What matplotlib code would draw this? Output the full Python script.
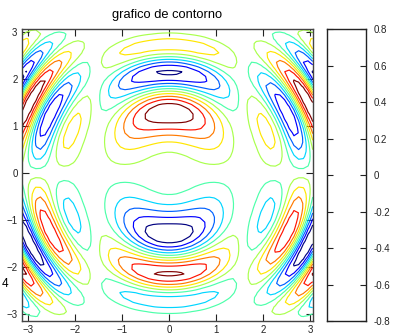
"""Contour plot of cos(x)*sin(y)*sin(x^2+y^2), in the style of an Octave/gnuplot figure."""

import numpy as np
import matplotlib
matplotlib.use("Agg")
import matplotlib.pyplot as plt

# grid as in meshgrid(-pi:0.1:pi), so the last value is 3.058
x_vals = np.arange(-np.pi, np.pi, 0.1)
y_vals = np.arange(-np.pi, np.pi, 0.1)
n_levels = 10

title_text = "grafico de contorno"
axis_ticks = [-3, -2, -1, 0, 1, 2, 3]
cbar_ticks = [-0.8, -0.6, -0.4, -0.2, 0, 0.2, 0.4, 0.6, 0.8]
cbar_labels = ["-0.8", "-0.6", "-0.4", "-0.2", "0", "0.2", "0.4", "0.6", "0.8"]


def main():
    plt.rcParams['font.family'] = ['Liberation Sans', 'DejaVu Sans']
    plt.rcParams['font.size'] = 7

    X, Y = np.meshgrid(x_vals, y_vals)
    Z = np.cos(X) * np.sin(Y) * np.sin(X ** 2 + Y ** 2)
    # octave style: n levels between min and max, ends excluded
    levels = np.linspace(Z.min(), Z.max(), n_levels + 2)[1:-1]

    fig = plt.figure(figsize=(3.93, 3.36), dpi=100)
    ax = fig.add_axes([0.0552, 0.0446, 0.7405, 0.868])
    ax.contour(X, Y, Z, levels=levels, cmap='jet', vmin=levels[0], vmax=levels[-1], linewidths=0.85)
    ax.set_xlim(x_vals[0], x_vals[-1])
    ax.set_ylim(y_vals[0], y_vals[-1])
    ax.set_xticks(axis_ticks)
    ax.set_yticks(axis_ticks)
    ax.tick_params(direction='in', length=5, width=0.8, top=True, right=True, pad=3, colors='#222222')
    for s in ax.spines.values():
        s.set_linewidth(1.0)
        s.set_color('#444444')
    ax.set_title(title_text, fontsize=9.3, pad=8)

    # colorbar box, drawn empty like the reference
    cax = fig.add_axes([0.832, 0.0446, 0.100, 0.868])
    cax.set_xticks([])
    cax.set_ylim(-0.8, 0.8)
    cax.set_yticks(cbar_ticks)
    cax.set_yticklabels(cbar_labels)
    cax.yaxis.tick_right()
    cax.tick_params(axis='y', direction='in', length=4, width=0.8, left=True, right=True, pad=5,
                    colors='#222222')
    for s in cax.spines.values():
        s.set_linewidth(1.0)
        s.set_color('#222222')

    # stray label at the left edge of the original
    fig.text(0.005, 0.155, "4", fontsize=8.5, ha='left', va='center')

    fig.savefig("out.png", dpi=100)


if __name__ == "__main__":
    main()
